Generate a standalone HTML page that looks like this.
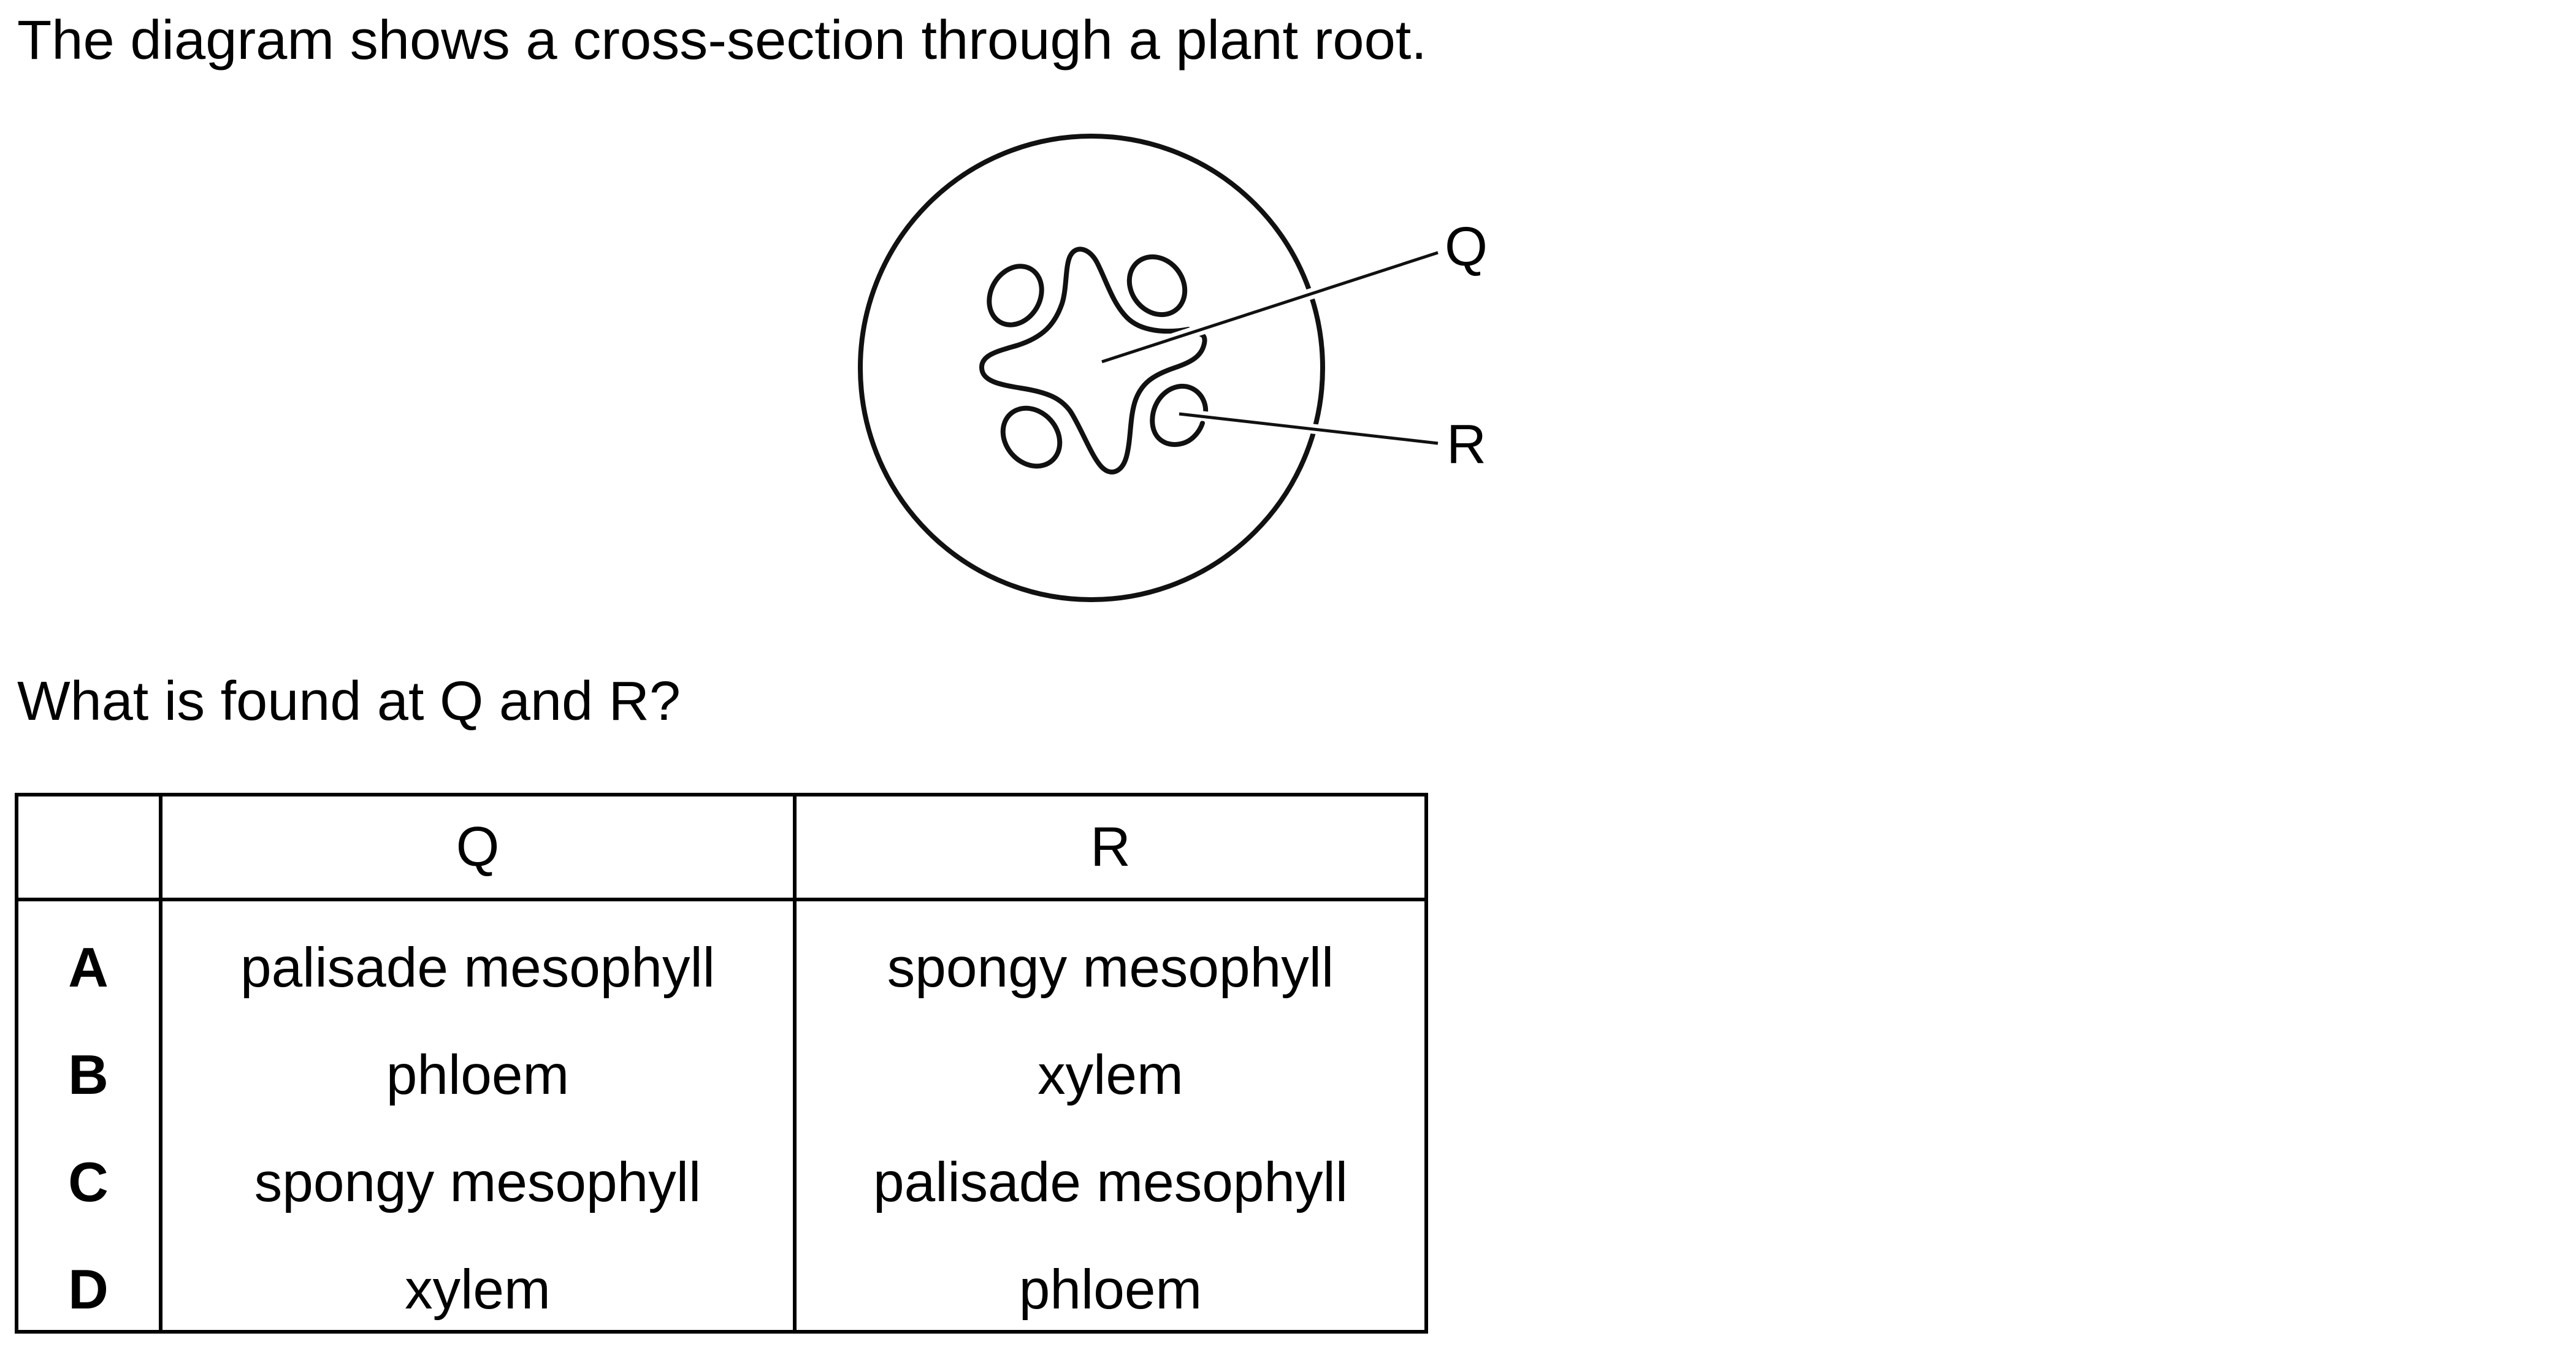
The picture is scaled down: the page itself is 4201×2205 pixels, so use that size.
<!DOCTYPE html>
<html><head><meta charset="utf-8"><style>
html,body{margin:0;padding:0;background:#fff;}
svg{display:block;}
text{font-family:"Liberation Sans",Arial,sans-serif;fill:#000;}
</style></head><body>
<svg width="4201" height="2205" viewBox="0 0 4201 2205" xmlns="http://www.w3.org/2000/svg">
<rect width="4201" height="2205" fill="#fff"/>
<text x="28" y="96" font-size="90" textLength="2299" lengthAdjust="spacingAndGlyphs">The diagram shows a cross-section through a plant root.</text>

<g fill="none" stroke="#111" stroke-linecap="round">
<ellipse cx="1780" cy="600" rx="377" ry="378" stroke-width="8"/>
<path stroke-width="8" d="M1938,537 C1900,544 1860,540 1838,518 C1815,495 1805,460 1790,430 C1778,405 1755,398 1745,418 C1737,435 1740,470 1732,495 C1720,530 1700,550 1660,563 C1630,572 1600,578 1601,600 C1602,622 1630,627 1665,633 C1710,640 1730,650 1745,670 C1762,695 1780,745 1797,762 C1812,777 1830,770 1837,745 C1845,715 1842,680 1852,652 C1862,625 1880,612 1915,600 C1945,590 1960,580 1964,560 C1966,550 1962,546 1958,545"/>
<ellipse cx="1656" cy="482" rx="40" ry="50" transform="rotate(30 1656 482)" stroke-width="8"/>
<ellipse cx="1887" cy="466" rx="42" ry="50" transform="rotate(-38 1887 466)" stroke-width="8"/>
<ellipse cx="1682" cy="713" rx="42" ry="51" transform="rotate(-42 1682 713)" stroke-width="8"/>
<path stroke-width="8" d="M1966,673 C1968,650 1950,628 1925,630 C1895,633 1875,665 1880,695 C1885,722 1910,730 1932,722 C1948,716 1958,700 1961,690"/>
<line x1="1797" y1="590" x2="2345" y2="412" stroke="#fff" stroke-width="18" stroke-linecap="butt"/>
<line x1="1797" y1="590" x2="2345" y2="412" stroke-width="5" stroke-linecap="butt"/>
<line x1="1940" y1="676" x2="2345" y2="723" stroke="#fff" stroke-width="16" stroke-linecap="butt"/>
<line x1="1923" y1="675" x2="2345" y2="723" stroke-width="5" stroke-linecap="butt"/>
</g>
<text x="2356" y="433" font-size="90">Q</text>
<text x="2359" y="755" font-size="90">R</text>

<text x="28" y="1174" font-size="90" textLength="1082" lengthAdjust="spacingAndGlyphs">What is found at Q and R?</text>

<g stroke="#000" stroke-width="6" fill="none">
<rect x="27" y="1296" width="2299" height="876"/>
<line x1="27" y1="1467" x2="2326" y2="1467"/>
<line x1="262" y1="1296" x2="262" y2="2172"/>
<line x1="1296" y1="1296" x2="1296" y2="2172"/>
</g>
<g font-size="91" text-anchor="middle">
<text x="779" y="1412">Q</text>
<text x="1811" y="1412">R</text>
<text x="144" y="1609" font-weight="bold">A</text>
<text x="779" y="1609">palisade mesophyll</text>
<text x="1811" y="1609">spongy mesophyll</text>
<text x="144" y="1784" font-weight="bold">B</text>
<text x="779" y="1784">phloem</text>
<text x="1811" y="1784">xylem</text>
<text x="144" y="1959" font-weight="bold">C</text>
<text x="779" y="1959">spongy mesophyll</text>
<text x="1811" y="1959">palisade mesophyll</text>
<text x="144" y="2134" font-weight="bold">D</text>
<text x="779" y="2134">xylem</text>
<text x="1811" y="2134">phloem</text>
</g>
</svg>
</body></html>
